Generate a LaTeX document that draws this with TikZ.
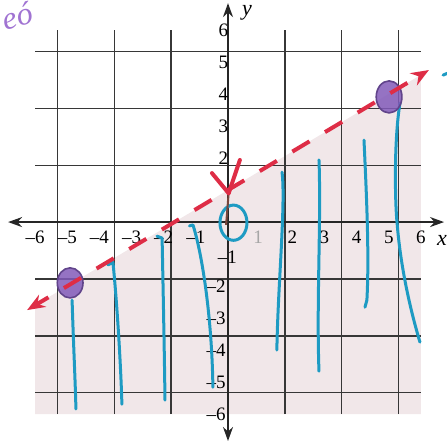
\documentclass[tikz,border=0pt]{standalone}
\usepackage{fontspec}
\setmainfont{Liberation Serif}
\usetikzlibrary{arrows.meta,shapes.geometric}
\definecolor{gridc}{RGB}{55,55,55}
\definecolor{shadec}{RGB}{241,231,233}
\definecolor{redl}{RGB}{222,45,70}
\definecolor{bluep}{RGB}{30,155,195}
\definecolor{purp}{RGB}{130,90,185}
\definecolor{lav}{RGB}{160,115,210}
\definecolor{brownp}{RGB}{120,70,60}
\begin{document}
\begin{tikzpicture}[x=16.07pt,y=16pt,
 gridline/.style={gridc,line width=0.6pt},
 axisline/.style={black!85,line width=0.9pt,{Stealth[length=7pt,width=5pt]}-{Stealth[length=7pt,width=5pt]}},
 ticklbl/.style={font=\fontsize{9.5}{10}\selectfont,inner sep=0.5pt},
 axlbl/.style={font=\fontsize{11}{12}\selectfont\itshape,inner sep=0.5pt},
 pen/.style={bluep,line width=1.5pt,line cap=round,line join=round},
 redpen/.style={redl,line width=2pt,line cap=round},
 dot/.style={draw=purp!75!black,fill=purp,fill opacity=0.85,line width=0.8pt}]
\useasboundingbox (-7.092,-6.9375) rectangle (6.812,6.9375);
% shaded half-plane
\fill[shadec] (-6,-2.6) -- (6,4.6) -- (6,-6) -- (-6,-6) -- cycle;
% grid
\draw[gridline] (-6,-6) grid (6,6);
% axes
\coordinate (xa) at (-6.84,0);
\coordinate (xb) at (6.72,0);
\coordinate (ya) at (0,-6.84);
\coordinate (yb) at (0,6.84);
\draw[axisline] (xa) -- (xb);
\draw[axisline] (ya) -- (yb);
\node[axlbl] (xlab) at (6.66,-0.56) {x};
\node[axlbl] (ylab) at (0.59,6.53) {y};
% tick labels
\foreach \i in {6,5,4,3,2}{
  \node[ticklbl] (xln\i) at (-\i,-0.47) {–\i};
  \node[ticklbl] (xlp\i) at (\i,-0.47) {\i};
  \node[ticklbl,anchor=east] (ylp\i) at (0.05,\i) {\i};
  \node[ticklbl,anchor=east] (yln\i) at (-0.03,-\i) {–\i};
}
\node[ticklbl] (xln1) at (-1,-0.47) {–1};
\node[ticklbl,text=black!35] (xlp1) at (0.94,-0.47) {1};
\node[ticklbl] (yln1) at (-0.02,-1.1) {–1};
% blue pen strokes
\draw[pen] (-4.85,-2.44) .. controls (-4.8,-4) and (-4.75,-5) .. (-4.73,-5.84);
\draw[pen] (-3.73,-1.34) -- (-3.58,-1.25) .. controls (-3.5,-2) and (-3.35,-4) .. (-3.30,-5.69);
\draw[pen] (-2.21,-0.44) -- (-2.05,-0.5) .. controls (-2.02,-2) and (-1.98,-4) .. (-1.96,-5.56);
\draw[pen] (-1.2,-0.12) -- (-1.09,-0.09) .. controls (-0.8,-1) and (-0.5,-3) .. (-0.47,-5.16);
\draw[pen] (1.68,1.56) .. controls (1.8,0.6) and (1.55,-2) .. (1.52,-4.0);
\draw[pen] (2.83,1.94) .. controls (2.9,0) and (2.75,-2.5) .. (2.83,-4.66);
\draw[pen] (4.23,2.56) .. controls (4.3,1) and (4.4,-1) .. (4.32,-2.44) -- (4.26,-2.66);
\draw[pen] (5.35,3.72) .. controls (5.15,2.5) and (5.2,0.5) .. (5.26,-0.03) .. controls (5.35,-1.2) and (5.6,-2.5) .. (5.97,-3.75);
\node[draw=bluep,line width=1.5pt,ellipse,minimum width=0.84*16.07pt,minimum height=1.1*16pt,inner sep=0pt] (zero) at (0.17,-0.02) {};
\coordinate (bm1) at (6.69,4.59);
\coordinate (bm2) at (6.85,4.66);
\draw[pen] (bm1) -- (bm2);
% purple points
\node[dot,ellipse,minimum width=0.8*16.07pt,minimum height=0.94*16pt,inner sep=0pt] (p1) at (-4.91,-1.9) {};
\node[dot,ellipse,minimum width=0.8*16.07pt,minimum height=1.0*16pt,inner sep=0pt] (p2) at (5.01,3.91) {};
% boundary line
\coordinate (la) at (-6.25,-2.75);
\coordinate (lb) at (6.25,4.75);
\draw[redpen,line cap=butt,dash pattern=on 10pt off 9pt,dash phase=3pt,{Stealth[length=9pt,width=7pt]}-{Stealth[length=9pt,width=7pt]}] (la) -- (lb);
% intercept mark
\coordinate (ic) at (0.02,0.9);
\draw[brownp,line width=1pt] (ic) -- (-0.06,-0.09);
\draw[redpen] (-0.5,1.53) -- (ic);
\draw[redpen] (0.37,1.94) -- (ic);
% handwriting
\node[text=lav,font=\fontsize{16}{16}\selectfont\itshape,rotate=15,inner sep=0pt] (hw) at (-6.55,6.45) {eó};
\end{tikzpicture}
\end{document}
